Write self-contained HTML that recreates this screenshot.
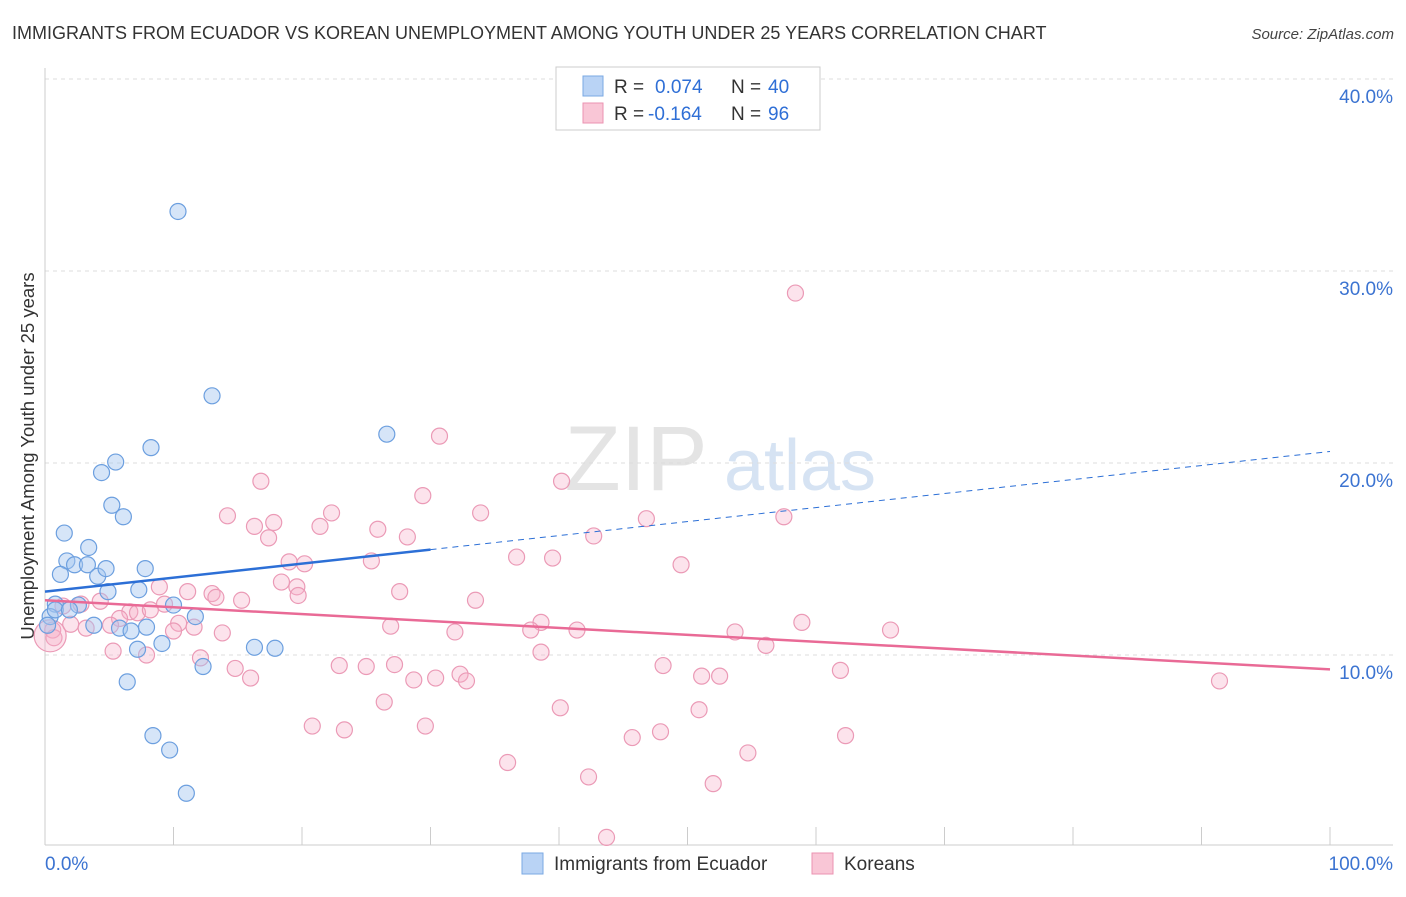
<!DOCTYPE html>
<html><head><meta charset="utf-8">
<style>
body{margin:0;background:#fff;font-family:"Liberation Sans",sans-serif;}
svg text{font-family:"Liberation Sans",sans-serif;}
</style></head>
<body>
<svg id="chart" width="1406" height="892" xmlns="http://www.w3.org/2000/svg">
<text x="12" y="39" font-size="18" fill="#333">IMMIGRANTS FROM ECUADOR VS KOREAN UNEMPLOYMENT AMONG YOUTH UNDER 25 YEARS CORRELATION CHART</text>
<text x="1394" y="39" font-size="15" fill="#444" text-anchor="end" font-style="italic">Source: ZipAtlas.com</text>
<text transform="translate(34,456) rotate(-90)" font-size="18.5" fill="#333" text-anchor="middle">Unemployment Among Youth under 25 years</text>
<g>
<text x="636" y="490" font-size="92" fill="#e4e4e4" font-family="Liberation Serif" text-anchor="middle">ZIP</text>
<text x="800" y="490" font-size="72" fill="#d6e3f3" text-anchor="middle">atlas</text>
</g>
<g id="grid"></g>
<g id="marks"></g>
<g>
<rect x="556" y="67" width="264" height="63" fill="#fff" stroke="#ccc"/>
<rect x="583" y="76" width="20" height="20" fill="#b9d3f5" stroke="#7aa8e3"/>
<rect x="583" y="103" width="20" height="20" fill="#f9c6d6" stroke="#eb93b1"/>
<text x="614" y="93" font-size="19" fill="#333">R =</text>
<text x="655" y="93" font-size="19" fill="#2f6fd6">0.074</text>
<text x="731" y="93" font-size="19" fill="#333">N =</text>
<text x="768" y="93" font-size="19" fill="#2f6fd6">40</text>
<text x="614" y="120" font-size="19" fill="#333">R =</text>
<text x="648" y="120" font-size="19" fill="#2f6fd6">-0.164</text>
<text x="731" y="120" font-size="19" fill="#333">N =</text>
<text x="768" y="120" font-size="19" fill="#2f6fd6">96</text>
</g>
<g>
<rect x="522" y="853" width="21" height="21" fill="#b9d3f5" stroke="#7aa8e3"/>
<text x="554" y="870" font-size="19" fill="#333">Immigrants from Ecuador</text>
<rect x="812" y="853" width="21" height="21" fill="#f9c6d6" stroke="#eb93b1"/>
<text x="844" y="870" font-size="19" fill="#333">Koreans</text>
</g>
</svg>
<script>
const yTicks=[10,20,30,40];
const yTickLabels=["10.0%","20.0%","30.0%","40.0%"];
const xTicks=[0,10,20,30,40,50,60,70,80,90,100];
const xEndLabels=["0.0%","100.0%"];
const blueX=[10.35,13.0,26.6,8.25,5.5,4.4,5.2,6.1,1.5,1.7,3.4,2.3,1.2,3.3,4.1,4.75,7.8,4.9,7.3,0.8,2.6,0.4,10.0,11.7,3.8,5.8,7.9,6.7,9.1,7.2,16.3,17.9,12.3,6.4,8.4,9.7,11.0,0.8,0.2,1.9];
const blueY=[33.1,23.5,21.5,20.8,20.05,19.5,17.8,17.2,16.35,14.9,15.6,14.7,14.2,14.7,14.1,14.5,14.5,13.3,13.4,12.65,12.6,12.0,12.6,12.0,11.55,11.4,11.45,11.25,10.6,10.3,10.4,10.35,9.4,8.6,5.8,5.05,2.8,12.35,11.55,12.35];
const pinkX=[58.4,30.7,40.2,16.8,29.4,14.2,16.3,17.8,22.3,33.9,25.9,21.4,17.4,28.2,42.7,46.8,57.5,36.7,39.5,25.4,19.0,20.2,49.5,18.4,19.6,27.6,8.9,11.1,13.0,13.3,15.3,19.7,33.5,4.3,9.3,1.4,2.8,6.6,7.2,8.2,5.8,10.4,11.6,5.1,2.0,3.2,0.6,26.9,38.6,37.8,41.4,31.9,53.7,58.9,65.8,13.8,10.0,5.3,7.9,0.7,38.6,56.1,12.1,14.8,16.0,22.9,25.0,27.2,28.7,30.4,32.3,32.8,48.1,51.1,52.5,61.9,91.4,26.4,40.1,50.9,20.8,23.3,29.6,45.7,47.9,62.3,36.0,54.7,42.3,52.0,43.7,0.4];
const pinkY=[28.85,21.4,19.05,19.05,18.3,17.25,16.7,16.9,17.4,17.4,16.55,16.7,16.1,16.15,16.2,17.1,17.2,15.1,15.05,14.9,14.85,14.75,14.7,13.8,13.55,13.3,13.55,13.3,13.2,13.0,12.85,13.1,12.85,12.8,12.65,12.55,12.65,12.25,12.2,12.35,11.9,11.65,11.45,11.55,11.6,11.4,11.3,11.5,11.7,11.3,11.3,11.2,11.2,11.7,11.3,11.15,11.25,10.2,10.0,10.9,10.15,10.5,9.85,9.3,8.8,9.45,9.4,9.5,8.7,8.8,9.0,8.65,9.45,8.9,8.9,9.2,8.65,7.55,7.25,7.15,6.3,6.1,6.3,5.7,6.0,5.8,4.4,4.9,3.65,3.3,0.5,11.0];
const pinkR=[8,8,8,8,8,8,8,8,8,8,8,8,8,8,8,8,8,8,8,8,8,8,8,8,8,8,8,8,8,8,8,8,8,8,8,8,8,8,8,8,8,8,8,8,8,8,8,8,8,8,8,8,8,8,8,8,8,8,8,8,8,8,8,8,8,8,8,8,8,8,8,8,8,8,8,8,8,8,8,8,8,8,8,8,8,8,8,8,8,8,8,16];
const blueTrend=[13.3,20.6];
const pinkTrend=[12.85,9.25];
const blueSolidEnd=30;

const X=v=>45+v*12.85;
const Y=v=>847-v*19.2;
const NS="http://www.w3.org/2000/svg";
function mk(tag,attrs,parent){const e=document.createElementNS(NS,tag);for(const k in attrs)e.setAttribute(k,attrs[k]);parent.appendChild(e);return e;}
const grid=document.getElementById('grid'),marks=document.getElementById('marks');
yTicks.forEach((t,i)=>{
  const l=mk('line',{x1:45,x2:1393,y1:Y(t),y2:Y(t),stroke:'#ddd','stroke-dasharray':'4,4'},grid);
  
  
  const tx=mk('text',{x:1393,y:Y(t)+24,'font-size':19,fill:'#3b73d1','text-anchor':'end'},grid);
  tx.textContent=yTickLabels[i];
  
  
});
const ax=mk('line',{x1:45,x2:1393,y1:845,y2:845,stroke:'#ccc'},grid);


const ay=mk('line',{x1:45,x2:45,y1:68,y2:845,stroke:'#ccc'},grid);


xTicks.forEach(t=>{
  const l=mk('line',{x1:X(t),x2:X(t),y1:827,y2:845,stroke:'#ccc'},grid);
  
  
});
[[0,'start'],[100,'end']].forEach((p,i)=>{
  const tx=mk('text',{x:p[0]===0?45:1393,y:870,'font-size':19,fill:'#3b73d1','text-anchor':p[1]},grid);
  tx.textContent=xEndLabels[i];
  
  
});
pinkX.forEach((x,i)=>{
  const c=mk('circle',{cx:X(x),cy:Y(pinkY[i]),r:pinkR[i],fill:'rgba(245,175,200,0.35)',stroke:'#eb9ab6','stroke-width':1.2},marks);
  
  
});
blueX.forEach((x,i)=>{
  const c=mk('circle',{cx:X(x),cy:Y(blueY[i]),r:8,fill:'rgba(165,198,240,0.45)',stroke:'#6c9fdf','stroke-width':1.2},marks);
  
  
});
const bAt=x=>blueTrend[0]+(blueTrend[1]-blueTrend[0])*x/100;
const bl=mk('line',{x1:X(0),y1:Y(bAt(0)),x2:X(blueSolidEnd),y2:Y(bAt(blueSolidEnd)),stroke:'#2c6fd6','stroke-width':2.5},marks);


const bd=mk('line',{x1:X(blueSolidEnd),y1:Y(bAt(blueSolidEnd)),x2:X(100),y2:Y(bAt(100)),stroke:'#2c6fd6','stroke-width':1,'stroke-dasharray':'6,5'},marks);


const pl=mk('line',{x1:X(0),y1:Y(pinkTrend[0]),x2:X(100),y2:Y(pinkTrend[1]),stroke:'#e96a96','stroke-width':2.5},marks);


</script>
</body></html>
